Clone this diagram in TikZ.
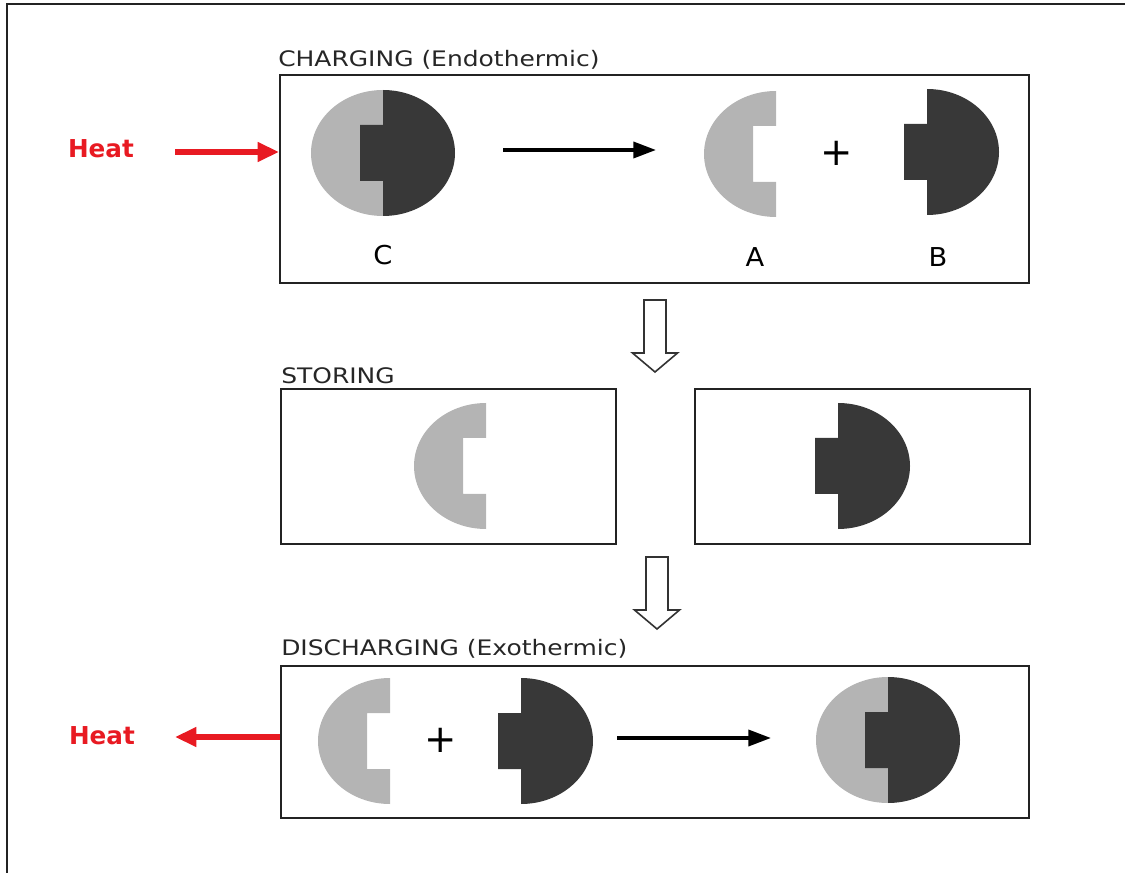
\documentclass[tikz,border=0pt]{standalone}
\usepackage{fontspec}
\setmainfont{DejaVu Sans}
\newfontfamily\widefont[FakeStretch=1.17]{DejaVu Sans}
\newfontfamily\letterfont[FakeStretch=1.05]{DejaVu Sans}
\newfontfamily\heatfont{DejaVu Sans Bold}
\usetikzlibrary{arrows.meta,fit}

\definecolor{lightpiece}{RGB}{180,180,180}
\definecolor{darkpiece}{RGB}{56,56,56}
\definecolor{heatred}{RGB}{232,26,34}
\definecolor{framegray}{RGB}{35,35,35}

\tikzset{
  panel/.style={draw=framegray, line width=1.5pt, inner sep=0pt},
  stagetitle/.style={anchor=base west, inner sep=0pt, font=\widefont\fontsize{16}{19}\selectfont, text=black!85},
  partlabel/.style={anchor=base, inner sep=0pt, font=\letterfont\fontsize{19.5}{22}\selectfont},
  plussign/.style={inner sep=0pt, font=\fontsize{29}{30}\selectfont},
  heatlabel/.style={anchor=base, inner sep=0pt, text=heatred, font=\heatfont\fontsize{18.5}{22}\selectfont},
  reaction/.style={-{Triangle[length=17pt,width=12pt]}, line width=2.7pt, black},
  heatflow/.style={-{Triangle[length=16pt,width=14pt]}, line width=4.5pt, heatred},
  % half of the molecule with the square socket (A)
  pics/socket/.style={code={
    \fill[lightpiece] (0,-63) arc[start angle=270, end angle=90, x radius=72, y radius=63]
      -- (0,28) -- (-23,28) -- (-23,-28) -- (0,-28) -- cycle;
  }},
  % half of the molecule with the square plug (B)
  pics/plug/.style={code={
    \fill[darkpiece] (0,-63) arc[start angle=-90, end angle=90, x radius=72, y radius=63]
      -- (0,28) -- (-23,28) -- (-23,-28) -- (0,-28) -- cycle;
  }},
  % bonded molecule C = A + B
  pics/compound/.style={code={\pic{socket}; \pic{plug};}},
  % open block arrow pointing down, drawn from its top centre
  pics/stepdown/.style={code={
    \draw[line width=1.2pt, draw=black!80, fill=white, line join=miter]
      (-11,0) -- (-11,53) -- (-22.5,53) -- (0,72) -- (22.5,53) -- (11,53) -- (11,0) -- cycle;
  }}
}

\begin{document}
\begin{tikzpicture}[x=0.75pt, y=-0.75pt]
  \useasboundingbox (0,0) rectangle (1125,873);
  \clip (0,0) rectangle (1125,873);

  % outer frame
  \draw[framegray, line width=1.5pt] (7,873) -- (7,4) -- (1125,4);

  % ---------- charging ----------
  \node[panel, fit={(280,75) (1029,283)}] (charge) {};
  \node[stagetitle] (chargetitle) at (278,67) {CHARGING (Endothermic)};
  \pic (molC) at (383,153) {compound};
  \pic (molA) at (776,154) {socket};
  \pic (molB) at (927,152) {plug};
  \node[partlabel] (labC) at (383,265) {C};
  \node[partlabel] (labA) at (755,267) {A};
  \node[partlabel] (labB) at (938,267) {B};
  \node[plussign] (plusTop) at (837,153) {+};
  \coordinate (r1s) at (503,150);
  \coordinate (r1e) at (656,150);
  \draw[reaction] (r1s) -- (r1e);
  \node[heatlabel] (heatIn) at (101,158) {Heat};
  \coordinate (heatInStart) at (175,152);
  \draw[heatflow] (heatInStart) -- (charge.west |- heatInStart);

  \pic (toStore) at (655,300) {stepdown};

  % ---------- storing ----------
  \node[panel, fit={(281,389) (616,544)}] (storeA) {};
  \node[panel, fit={(695,389) (1030,544)}] (storeB) {};
  \node[stagetitle] (storetitle) at (281,384) {STORING};
  \pic (keepA) at (486,466) {socket};
  \pic (keepB) at (838,466) {plug};

  \pic (toRelease) at (657,557) {stepdown};

  % ---------- discharging ----------
  \node[panel, fit={(281,666) (1029,818)}] (discharge) {};
  \node[stagetitle] (dischargetitle) at (281,655) {DISCHARGING (Exothermic)};
  \pic (backA) at (390,741) {socket};
  \pic (backB) at (521,741) {plug};
  \node[plussign] (plusBottom) at (441,740) {+};
  \pic (backC) at (888,740) {compound};
  \coordinate (r2s) at (617,738);
  \coordinate (r2e) at (771,738);
  \draw[reaction] (r2s) -- (r2e);
  \node[heatlabel] (heatOut) at (102,744) {Heat};
  \coordinate (heatOutEnd) at (175,737);
  \draw[heatflow] (discharge.west |- heatOutEnd) -- (heatOutEnd);
\end{tikzpicture}
\end{document}
